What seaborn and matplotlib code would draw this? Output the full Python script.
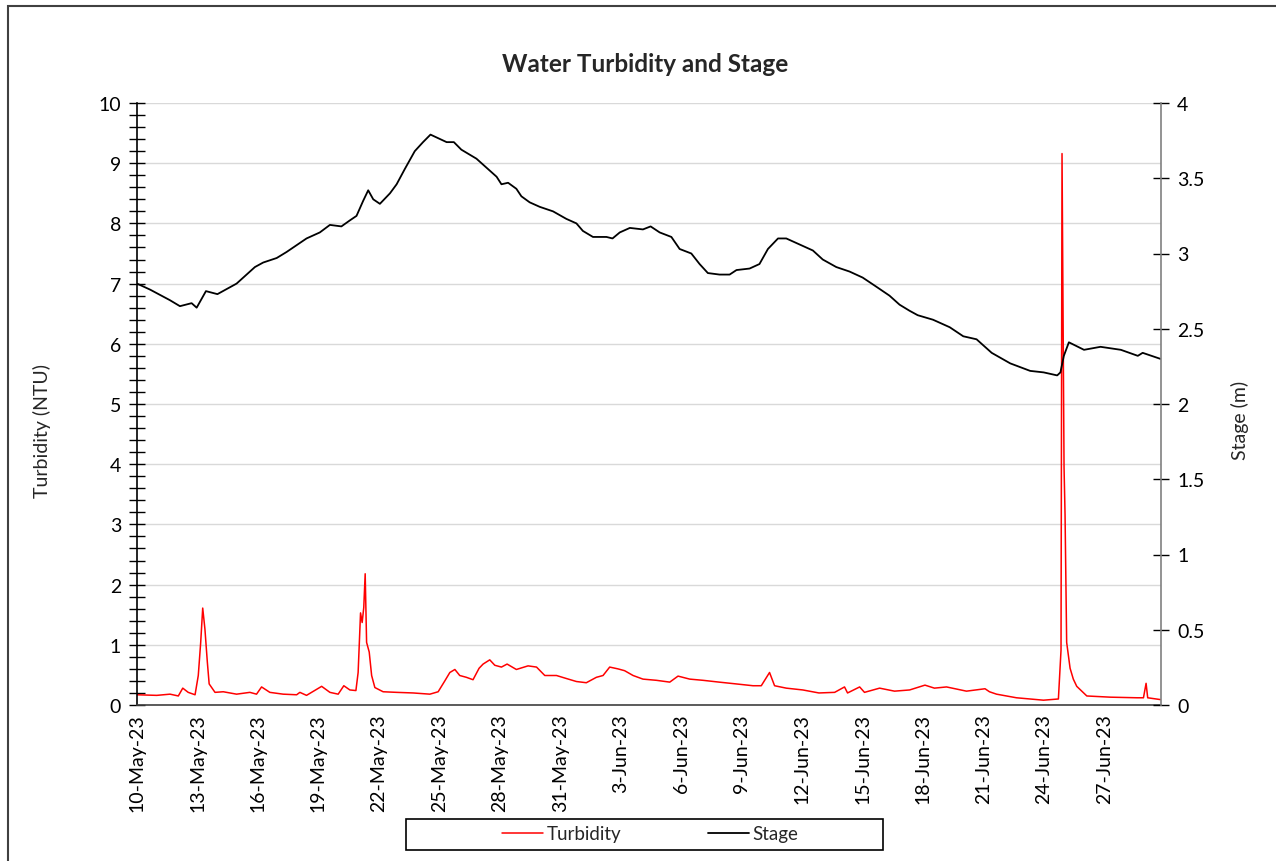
import matplotlib
matplotlib.use("Agg")
import matplotlib.pyplot as plt
import matplotlib.dates as mdates
from matplotlib.ticker import MultipleLocator, FixedLocator
from matplotlib.patches import Rectangle
import seaborn as sns
import pandas as pd
import numpy as np

# ---------------- data ----------------
start_date = "2023-05-10 00:00"

# stage: days after start, metres
stage_day = [0.0, 0.65, 1.63, 2.13, 2.71, 2.96, 3.42, 3.99, 4.94, 5.85, 6.26, 6.93, 7.42,
             8.41, 9.07, 9.57, 10.14, 10.56, 10.89, 11.22, 11.47, 11.72, 12.05, 12.55, 12.88,
             13.28, 13.78, 14.19, 14.56, 15.36, 15.72, 16.09, 16.84, 17.34, 17.84, 18.08,
             18.41, 18.82, 19.07, 19.48, 19.98, 20.64, 21.30, 21.80, 22.12, 22.62, 23.29,
             23.59, 23.95, 24.45, 25.10, 25.48, 25.93, 26.51, 26.92, 27.50, 27.91, 28.32,
             28.90, 29.40, 29.74, 30.39, 30.88, 31.30, 31.80, 32.21, 32.87, 33.53, 34.02,
             34.69, 35.35, 36.00, 36.67, 37.33, 37.83, 38.32, 38.73, 39.49, 40.32, 40.99,
             41.65, 42.40, 43.32, 44.31, 44.98, 45.65, 45.81, 45.98, 46.23, 46.98, 47.80,
             48.81, 49.65, 49.89, 50.77]
stage_m = [2.80, 2.76, 2.69, 2.65, 2.67, 2.64, 2.75, 2.73, 2.80, 2.91, 2.94, 2.97, 3.01,
           3.10, 3.14, 3.19, 3.18, 3.22, 3.25, 3.35, 3.42, 3.36, 3.33, 3.40, 3.46,
           3.56, 3.68, 3.74, 3.79, 3.74, 3.74, 3.69, 3.63, 3.57, 3.51, 3.46,
           3.47, 3.43, 3.38, 3.34, 3.31, 3.28, 3.23, 3.20, 3.15, 3.11, 3.11,
           3.10, 3.14, 3.17, 3.16, 3.18, 3.14, 3.11, 3.03, 3.00, 2.93, 2.87,
           2.86, 2.86, 2.89, 2.90, 2.93, 3.03, 3.10, 3.10, 3.06, 3.02, 2.96,
           2.91, 2.88, 2.84, 2.78, 2.72, 2.66, 2.62, 2.59, 2.56, 2.51, 2.45,
           2.43, 2.34, 2.27, 2.22, 2.21, 2.19, 2.21, 2.32, 2.41, 2.36, 2.38,
           2.36, 2.32, 2.34, 2.30]

# turbidity: days after start, NTU
turb_day = [0.0, 0.98, 1.64, 2.05, 2.27, 2.54, 2.88, 3.04, 3.16, 3.26, 3.37, 3.49, 3.58,
            3.87, 4.28, 4.94, 5.60, 5.93, 6.18, 6.59, 7.25, 7.92, 8.08, 8.41, 9.16, 9.57,
            9.98, 10.26, 10.56, 10.86, 10.97, 11.09, 11.17, 11.25, 11.32, 11.39, 11.52,
            11.64, 11.80, 12.21, 12.88, 13.70, 14.53, 14.94, 15.27, 15.52, 15.77, 16.01,
            16.34, 16.67, 16.97, 17.17, 17.50, 17.75, 18.08, 18.36, 18.82, 19.40, 19.82,
            20.23, 20.81, 21.30, 21.80, 22.29, 22.79, 23.12, 23.45, 23.86, 24.19, 24.61,
            25.10, 25.77, 26.43, 26.84, 27.42, 28.08, 28.88, 29.73, 30.56, 30.97, 31.38,
            31.63, 32.21, 33.03, 33.83, 34.61, 35.10, 35.25, 35.85, 36.09, 36.84, 37.58,
            38.33, 39.09, 39.56, 40.16, 41.15, 42.07, 42.29, 42.64, 43.63, 44.97, 45.71,
            45.84, 45.89, 45.99, 46.04, 46.12, 46.29, 46.45, 46.62, 47.12, 48.29, 49.62,
            49.93, 50.06, 50.14, 50.77]
turb_ntu = [0.17, 0.16, 0.18, 0.15, 0.28, 0.21, 0.17, 0.49, 1.04, 1.61, 1.26, 0.71, 0.35,
            0.21, 0.22, 0.18, 0.21, 0.18, 0.30, 0.21, 0.18, 0.17, 0.21, 0.16, 0.31, 0.21,
            0.18, 0.32, 0.25, 0.24, 0.54, 1.53, 1.37, 1.62, 2.18, 1.04, 0.88,
            0.49, 0.29, 0.22, 0.21, 0.20, 0.18, 0.22, 0.40, 0.54, 0.59, 0.49,
            0.46, 0.42, 0.61, 0.68, 0.75, 0.66, 0.63, 0.68, 0.59, 0.65, 0.63,
            0.49, 0.49, 0.44, 0.39, 0.37, 0.46, 0.49, 0.63, 0.60, 0.57, 0.49,
            0.43, 0.41, 0.38, 0.48, 0.43, 0.41, 0.38, 0.35, 0.32, 0.32, 0.54,
            0.32, 0.28, 0.25, 0.20, 0.21, 0.30, 0.20, 0.30, 0.21, 0.28, 0.23,
            0.25, 0.33, 0.28, 0.30, 0.23, 0.27, 0.22, 0.18, 0.12, 0.08, 0.10,
            0.91, 9.16, 3.95, 3.16, 1.04, 0.61, 0.43, 0.31, 0.15, 0.13, 0.12,
            0.12, 0.36, 0.12, 0.09]

title = "Water Turbidity and Stage"
left_label = "Turbidity (NTU)"
right_label = "Stage (m)"
series_names = ["Turbidity", "Stage"]

# ---------------- build ----------------
t0 = pd.Timestamp(start_date)
stage_time = t0 + pd.to_timedelta(stage_day, unit="D")
turb_time = t0 + pd.to_timedelta(turb_day, unit="D")

sns.set_style("white")
plt.rcParams["font.family"] = ["Lato", "DejaVu Sans"]
FS = 14

fig = plt.figure(figsize=(12.76, 8.62), dpi=100)
W, H = 1276, 862
ax = fig.add_axes([137 / W, 1 - 706 / H, (1161 - 137) / W, (706 - 104) / H])
ax2 = ax.twinx()

sns.lineplot(x=turb_time, y=turb_ntu, ax=ax, color="#ff0000", linewidth=1.1,
             errorbar=None, legend=False)
sns.lineplot(x=stage_time, y=stage_m, ax=ax2, color="black", linewidth=1.3,
             errorbar=None, legend=False)

ax.set_xlim(t0, t0 + pd.Timedelta(days=50.8))
ax.set_ylim(0, 10)
ax2.set_ylim(0, 4)

ax.yaxis.set_major_locator(MultipleLocator(1))
ax.yaxis.set_minor_locator(MultipleLocator(0.2))
ax2.yaxis.set_major_locator(MultipleLocator(0.5))
ax2.yaxis.set_major_formatter(plt.FuncFormatter(lambda v, p: f"{v:g}"))

major_ticks = pd.date_range(t0, periods=17, freq="3D")
minor_ticks = major_ticks + pd.Timedelta(hours=36)
ax.xaxis.set_major_locator(FixedLocator(mdates.date2num(major_ticks)))
ax.xaxis.set_minor_locator(FixedLocator(mdates.date2num(minor_ticks)))
ax.xaxis.set_major_formatter(mdates.DateFormatter("%-d-%b-%y"))

ax.grid(axis="y", which="major", color="#d9d9d9", linewidth=1)
ax.set_axisbelow(True)
ax2.grid(False)

for s in ["top", "right"]:
    ax.spines[s].set_visible(False)
for s in ["top", "left", "bottom"]:
    ax2.spines[s].set_visible(False)
ax.spines["left"].set_color("black")
ax.spines["bottom"].set_color("#404040")
ax.spines["left"].set_linewidth(1.2)
ax.spines["bottom"].set_linewidth(1.2)
ax2.spines["right"].set_color("#808080")
ax2.spines["right"].set_linewidth(1.2)

ax.tick_params(axis="y", which="both", direction="inout", length=11, width=1.0,
               color="black", labelsize=FS, pad=6, labelcolor="black")
ax.tick_params(axis="y", which="minor", length=11)
ax2.tick_params(axis="y", which="major", direction="inout", length=11, width=1.0,
                color="black", labelsize=FS, pad=6, labelcolor="black")
ax.tick_params(axis="x", which="both", direction="in", length=5, width=1,
               color="#404040", labelsize=FS, pad=6, labelcolor="black")
plt.setp(ax.get_xticklabels(), rotation=90, ha="center", va="top")

ax.set_xlabel("")
ax.set_ylabel("")
ax2.set_ylabel("")

fig.text(645 / W, 1 - 65 / H, title, ha="center", va="center",
         fontsize=17.5, fontweight="bold")
fig.text(42 / W, 1 - 431 / H, left_label, ha="center", va="center",
         rotation=90, fontsize=FS)
fig.text(1240 / W, 1 - 420 / H, right_label, ha="center", va="center",
         rotation=90, fontsize=FS)

# legend
handles = [ax.get_lines()[0], ax2.get_lines()[0]]
fig.legend(handles, series_names, loc="center", bbox_to_anchor=(650 / W, 1 - 835 / H),
           ncol=2, frameon=False, fontsize=13.5, handlelength=2.2, handletextpad=0.2,
           columnspacing=4.6)
fig.add_artist(Rectangle((406 / W, 1 - 851 / H), (883 - 406) / W, 31 / H,
                         transform=fig.transFigure, fill=False, edgecolor="black",
                         linewidth=1.2))
# outer chart border
fig.add_artist(Rectangle((8 / W, -0.05), 1.2, 1 - 7 / H + 0.05,
                         transform=fig.transFigure, fill=False, edgecolor="#404040",
                         linewidth=1.5))

fig.savefig("out.png", dpi=100)
